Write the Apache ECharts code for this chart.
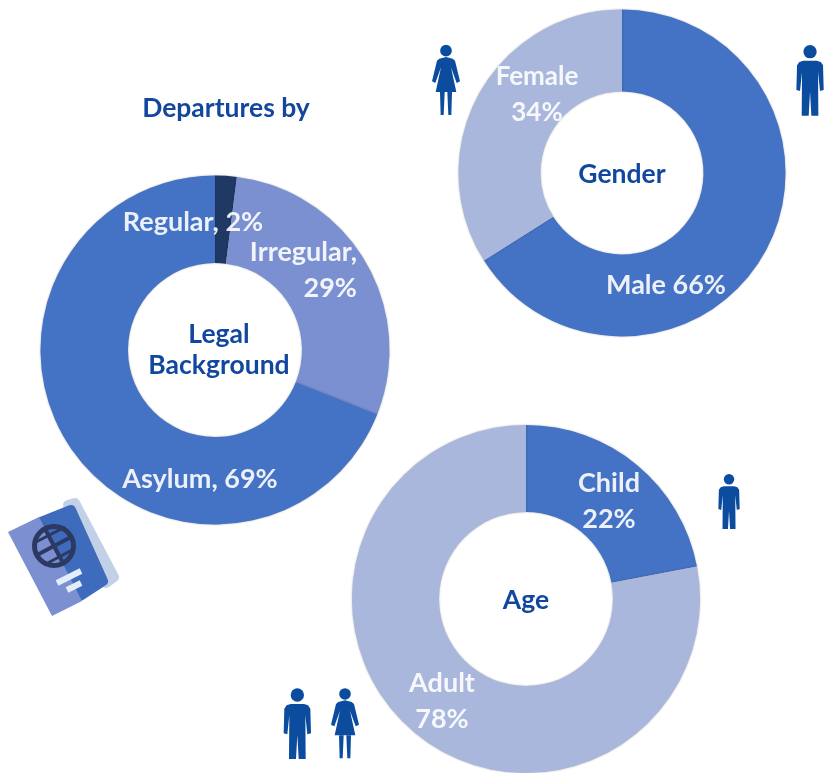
<!DOCTYPE html>
<html><head><meta charset="utf-8">
<style>html,body{margin:0;padding:0;background:#fff}#c{width:831px;height:773px}</style>
<script src="https://cdn.jsdelivr.net/npm/echarts@6/dist/echarts.min.js"></script>
</head><body><div id="c"></div>
<script>
const legalNames = ['Regular', 'Irregular', 'Asylum'];
const legalValues = [2, 29, 69];
const genderNames = ['Male', 'Female'];
const genderValues = [66, 34];
const ageNames = ['Child', 'Adult'];
const ageValues = [22, 78];

const BLUE = '#4472C4', LIGHT = '#A9B7DC', MID = '#7A90D0', DARK = '#1F3864', INK = '#11479E';
const FONT = 'Lato, "Open Sans", sans-serif';
const chart = echarts.init(document.getElementById('c'), null, {renderer:'canvas'});

function pie(names, values, colors, center, radius, labels, places) {
  return {
    type:'pie', center, radius, startAngle:90, clockwise:true, silent:true, animation:false,
    itemStyle:{shadowBlur:2, shadowColor:'rgba(0,0,0,0.3)'},
    labelLine:{show:false},
    data: names.map((n,i)=>({
      name:n, value:values[i],
      itemStyle:{color:colors[i]},
      label:{show:true, position:'inside', formatter:labels[i], color:'rgba(255,255,255,0.9)',
        fontFamily:FONT, fontWeight:'bold', fontSize:places[i].size||27, lineHeight:36, align:places[i].align||'center', verticalAlign:'middle'},
    })),
    labelLayout: p => {
      const q = places[p.dataIndex];
      return {x:q.x, y:q.y, align:q.align||'center', verticalAlign:'middle'};
    }
  };
}

const ICON = '#0B4C9F';
const womanParts = [
  [[58,86],[78,81],[98,86],[105,92],[120,154],[110,159],[93,112],[109,186],[47,186],[63,112],[46,159],[36,154],[51,92]],
  [[60,186],[74,186],[71,255],[62,255]],
  [[82,186],[96,186],[94,255],[85,255]]
];
const manParts = [
  [[62,72],[102,72],[114,76],[121,86],[123,160],[112,163],[106,106],[107,237],[86,237],[82,165],[78,237],[57,237],[58,106],[52,163],[41,160],[43,86],[50,76]]
];
function person(parts, hx, hy, hr, x, y, s) {
  return {type:'group', x, y, scaleX:s, scaleY:s, silent:true, children:[
    {type:'circle', shape:{cx:hx, cy:hy, r:hr}, style:{fill:ICON}},
    ...parts.map(points=>({type:'polygon', shape:{points}, style:{fill:ICON}}))
  ]};
}
const woman = (x,y,s)=>person(womanParts,78,62,17.5,x,y,s);
const man = (x,y,s)=>person(manParts,82,45,20,x,y,s);
const poly = (points, fill, w)=>({type:'polygon', silent:true, shape:{points}, style:{fill, stroke:fill, lineWidth:w, lineJoin:'round'}});
const seg = (x1,y1,x2,y2,stroke,lineWidth)=>({type:'line', silent:true, shape:{x1,y1,x2,y2}, style:{stroke, lineWidth}});

const passport = [
  poly([[68,505],[75,503],[114,577],[106,583]], '#C3D1E8', 10),
  poly([[41,522],[71,510],[103,581],[80,596]], '#3F6BBD', 10),
  {type:'polygon', silent:true, shape:{points:[[8,532],[39,517],[82,601],[52,616]]}, style:{fill:'#7B8FD1'}},
  {type:'circle', silent:true, shape:{cx:54,cy:546,r:19.5}, style:{fill:'none', stroke:'#2C3A63', lineWidth:5}},
  seg(37,555,71,537,'#2C3A63',4),
  seg(34,543,65,527,'#2C3A63',3),
  seg(44,565,74,549,'#2C3A63',3),
  seg(44,527,64,565,'#2C3A63',4),
  seg(57,583,81,571,'#E3EEFC',6),
  seg(67,590,81,583,'#E3EEFC',6)
];

const heading = (text, x, y) => ({
  text, left:x, top:y, textAlign:'center', textVerticalAlign:'middle', padding:0,
  textStyle:{color:INK, fontFamily:FONT, fontWeight:'bold', fontSize:26.5, lineHeight:32}
});

chart.setOption({
  animation:false,
  backgroundColor:'#fff',
  title:[
    heading('Departures by', 226, 108),
    heading('Gender', 622, 174),
    heading('Legal', 219, 334),
    heading('Background', 219, 365),
    heading('Age', 526, 600)
  ],
  series:[
    pie(legalNames, legalValues, [DARK, MID, BLUE], [215,350], [87,174.5],
      ['Regular, 2%','Irregular,\n29%','Asylum, 69%'],
      [{x:193,y:222},{x:357,y:270,align:'right'},{x:200,y:479}]),
    pie(genderNames, genderValues, [BLUE, LIGHT], [622,173], [81.5,163.5],
      ['Male 66%','Female\n34%'],
      [{x:666,y:285},{x:537,y:95,size:26}]),
    pie(ageNames, ageValues, [BLUE, LIGHT], [526,599], [87,174],
      ['Child\n22%','Adult\n78%'],
      [{x:609,y:501},{x:442,y:701}])
  ],
  graphic:{elements:[
    woman(420,30,1/3), man(782.7,36.7,1/3),
    man(270,680,1/3), woman(319,673.3,1/3),
    man(707.7,467.5,0.26),
    ...passport
  ]}
});
</script></body></html>
